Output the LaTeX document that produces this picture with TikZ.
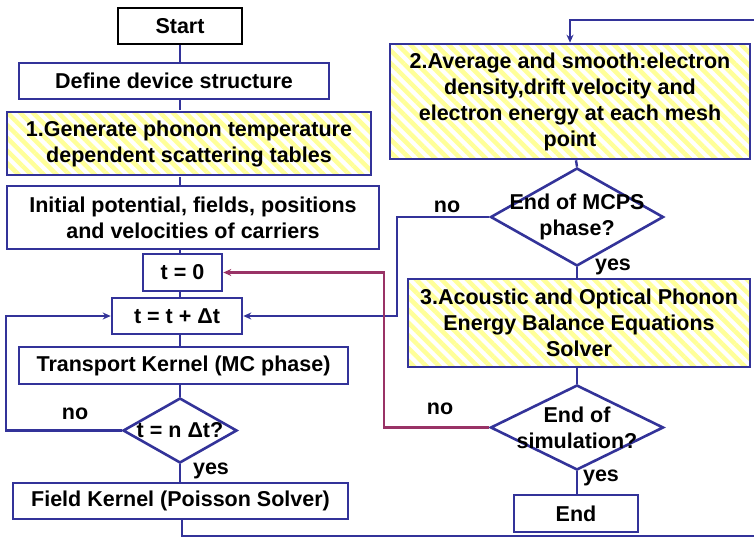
\documentclass[tikz,border=0pt]{standalone}
\usepackage{fontspec}
\setmainfont{Liberation Sans}
\usetikzlibrary{shapes.geometric,patterns.meta,arrows.meta}

\definecolor{flowblue}{HTML}{333399}
\definecolor{loopred}{HTML}{993366}
\definecolor{hatchyellow}{HTML}{FFFF99}

\tikzset{
  txt/.style={font=\bfseries\fontsize{21.5}{26}\selectfont, align=center, inner sep=0pt},
  box/.style={txt, draw=flowblue, line width=2.6pt, fill=white},
  hatched/.style={box, preaction={fill=white},
    pattern={Lines[angle=-45, distance=9pt, line width=4.5pt]}, pattern color=hatchyellow},
  decision/.style={diamond, draw=flowblue, line width=2.6pt, inner sep=0pt},
  flow/.style={draw=flowblue, line width=2.4pt},
  backflow/.style={draw=loopred, line width=2.4pt},
  tip/.style={-{Stealth[length=8pt,width=7pt]}},
  tag/.style={txt}
}

\begin{document}
\begin{tikzpicture}[x=1pt,y=-1pt]
\useasboundingbox (0,0) rectangle (754,538);
\clip (0,0) rectangle (754,538);

% vertical guide lines of the two columns
\coordinate (lx) at (180,0);
\coordinate (rx) at (576,0);

% bends of the connectors
\coordinate (lowrun) at (182,536);
\coordinate (edgeR) at (760,536);
\coordinate (edgeT) at (760,20);
\coordinate (topin) at (570,20);
\coordinate (noL) at (6,0);
\coordinate (noM) at (397,0);
\coordinate (noS) at (384,0);

% ---------- left column ----------
\node[box, draw=black, minimum width=124pt, minimum height=36pt] (start) at (180,26) {Start};
\node[box, minimum width=310pt, minimum height=36pt] (define) at (174,81) {Define device structure};
\node[hatched, minimum width=364pt, minimum height=63pt] (gen) at (189,143.5)
  {1.Generate phonon temperature\\dependent scattering tables};
\node[box, minimum width=372pt, minimum height=63pt] (init) at (193,217.5)
  {Initial potential, fields, positions\\and velocities of carriers};
\node[box, minimum width=79pt, minimum height=37pt] (tzero) at (182.5,272.5) {t = 0};
\node[box, minimum width=130pt, minimum height=36pt] (tinc) at (177,316) {t = t + Δt};
\node[box, minimum width=329pt, minimum height=37pt] (trans) at (183.5,365.5) {Transport Kernel (MC phase)};
\node[decision, minimum width=114pt, minimum height=65pt] (dstep) at (180,430.5) {};
\node[txt] at (dstep) {t = n Δt?};
\node[box, minimum width=335pt, minimum height=36pt] (field) at (180.5,501) {Field Kernel (Poisson Solver)};

% ---------- right column ----------
\node[hatched, minimum width=360pt, minimum height=115pt] (avg) at (570,101.5)
  {2.Average and smooth:electron\\density,drift velocity and\\electron energy at each mesh\\point};
\node[decision, minimum width=173pt, minimum height=98pt] (dmcps) at (577,217) {};
\node[txt] at (dmcps) {End of MCPS\\phase?};
\node[hatched, minimum width=342pt, minimum height=88pt] (bal) at (579,323)
  {3.Acoustic and Optical Phonon\\Energy Balance Equations\\Solver};
\node[decision, minimum width=173pt, minimum height=85pt] (dsim) at (577,427.5) {};
\node[txt] at (dsim) {End of\\simulation?};
\node[box, minimum width=124pt, minimum height=37pt] (finish) at (576,513.5) {End};

% ---------- connectors ----------
\path[flow] (start.south -| lx) -- (define.north -| lx);
\path[flow] (define.south -| lx) -- (gen.north -| lx);
\path[flow] (gen.south -| lx) -- (init.north -| lx);
\path[flow] (init.south -| lx) -- (tzero.north -| lx);
\path[flow] (tzero.south -| lx) -- (tinc.north -| lx);
\path[flow] (tinc.south -| lx) -- (trans.north -| lx);
\path[flow] (trans.south -| lx) -- (dstep.north);
\path[flow] (dstep.south) -- (field.north -| dstep.south);
\path[flow, tip] (dstep.west) -| (noL |- dstep.west) |- (tinc.west);

\path[flow, tip] (field.south -| lowrun) -- (lowrun) -- (edgeR) -- (edgeT) -- (topin) -- (avg.north -| topin);
\path[flow] (avg.south -| rx) -- (dmcps.north);
\path[flow, tip] (dmcps.west) -| (noM |- tinc.east) -- (tinc.east);
\path[flow] (dmcps.south) -- (bal.north -| dmcps.south);
\path[flow] (bal.south -| dsim.north) -- (dsim.north);
\path[flow] (dsim.south) -- (finish.north -| dsim.south);
\path[backflow, tip] (dsim.west) -| (noS |- tzero.east) -- (tzero.east);

% ---------- branch labels ----------
\node[tag] (n1) at (75,414) {no};
\node[tag] (y1) at (211,471) {yes};
\node[tag] (n2) at (447,207) {no};
\node[tag] (y2) at (613,267) {yes};
\node[tag] (n3) at (440,409) {no};
\node[tag] (y3) at (601,478) {yes};
\end{tikzpicture}
\end{document}
